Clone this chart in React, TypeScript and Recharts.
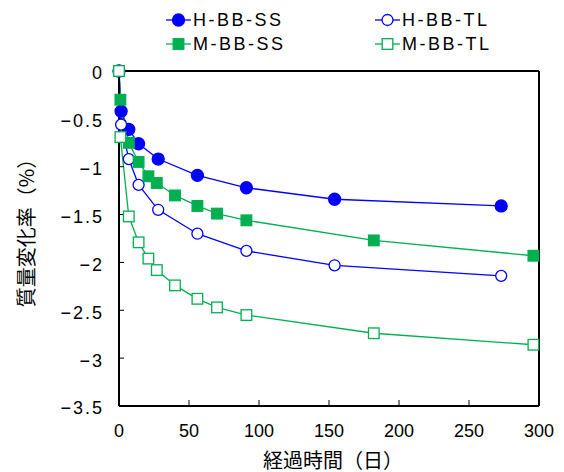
import { LineChart, XAxis, YAxis, Line, Legend, ReferenceLine } from 'recharts'

// days since start, per specimen group
const hDays = [0, 1.5, 7, 14, 28, 56, 91, 154, 273]
const mDays = [0, 1, 7, 14, 21, 27, 40, 56, 70, 91, 182, 296]

// mass change (%)
const hbbSS = [0, -0.42, -0.61, -0.76, -0.92, -1.09, -1.22, -1.34, -1.41]
const hbbTL = [0, -0.56, -0.92, -1.19, -1.45, -1.70, -1.88, -2.03, -2.14]
const mbbSS = [0, -0.30, -0.75, -0.95, -1.10, -1.17, -1.30, -1.41, -1.49, -1.56, -1.77, -1.93]
const mbbTL = [0, -0.69, -1.52, -1.79, -1.96, -2.08, -2.24, -2.38, -2.47, -2.55, -2.74, -2.86]

const xTicks = [0, 50, 100, 150, 200, 250, 300]
const yTicks = [0, -0.5, -1, -1.5, -2, -2.5, -3, -3.5]

const seriesNames = ['H-BB-SS', 'H-BB-TL', 'M-BB-SS', 'M-BB-TL']

const BLUE = '#0000ff'
const GREEN = '#00b050'
const FONT = "'Noto Sans CJK JP', sans-serif"
const NUM_FONT = "'Liberation Sans', 'Noto Sans CJK JP', sans-serif"

const toPoints = (days, vals) => days.map((d, i) => ({ day: d, value: vals[i] }))

const series = [
    { name: seriesNames[0], data: toPoints(hDays, hbbSS), color: BLUE, shape: 'circle', filled: true },
    { name: seriesNames[1], data: toPoints(hDays, hbbTL), color: BLUE, shape: 'circle', filled: false },
    { name: seriesNames[2], data: toPoints(mDays, mbbSS), color: GREEN, shape: 'square', filled: true },
    { name: seriesNames[3], data: toPoints(mDays, mbbTL), color: GREEN, shape: 'square', filled: false },
]

function Marker({ cx, cy, s }) {
    if (s.shape === 'circle') {
        return <circle cx={cx} cy={cy} r={s.filled ? 6 : 5.5} fill={s.filled ? s.color : '#fff'} stroke={s.color} strokeWidth={1.3} />
    }
    const h = 5.3
    return <rect x={cx - h} y={cy - h} width={h * 2} height={h * 2} fill={s.filled ? s.color : '#fff'} stroke={s.color} strokeWidth={1.3} />
}

const makeDot = (s) => (props) => {
    const { cx, cy, index } = props
    if (cx == null || cy == null) return <g key={'e' + index} />
    return <Marker key={s.name + index} cx={cx} cy={cy} s={s} />
}

function LegendBox() {
    const cols = [166, 375]
    const rows = [20, 44]
    return (
        <div style={{ position: 'relative', width: 564, height: 60, fontFamily: NUM_FONT, fontSize: 18, letterSpacing: 2.5, color: '#000' }}>
            {series.map((s, i) => (
                <div key={s.name} style={{ position: 'absolute', left: cols[i % 2], top: rows[Math.floor(i / 2)] - 11, height: 22, display: 'flex', alignItems: 'center' }}>
                    <svg width={26} height={22}>
                        <line x1={0} y1={11} x2={25} y2={11} stroke={s.color} strokeWidth={1.3} />
                        <Marker cx={12.5} cy={11} s={s} />
                    </svg>
                    <span style={{ marginLeft: 1, lineHeight: '22px' }}>{s.name}</span>
                </div>
            ))}
        </div>
    )
}

function YTitle() {
    return (
        <text x={25} y={228} transform="rotate(-90 25 228)" textAnchor="middle" dominantBaseline="central"
            fontFamily={FONT} fontSize={20} fill="#000">質量変化率（%）</text>
    )
}

function XTitle() {
    return (
        <text x={333} y={459} textAnchor="middle" dominantBaseline="central"
            fontFamily={FONT} fontSize={20} fill="#000">経過時間（日）</text>
    )
}

const fmt = (v) => (v < 0 ? '\u2212' + String(-v) : String(v))

export default function App() {
    return (
        <div style={{ position: 'absolute', left: 0, top: 0 }}>
            <LineChart width={564} height={472} margin={{ top: 71, right: 25, left: 0, bottom: 0 }}>
                <XAxis type="number" dataKey="day" domain={[0, 300]} ticks={xTicks}
                    height={66} tickSize={-6} tickMargin={24}
                    axisLine={{ stroke: '#000', strokeWidth: 2 }} tickLine={{ stroke: '#000' }}
                    tick={{ fill: '#000', fontSize: 18, fontFamily: NUM_FONT }}
                    label={<XTitle />} />
                <YAxis type="number" domain={[-3.5, 0]} ticks={yTicks}
                    width={119} tickSize={-5} tickMargin={20} tickFormatter={fmt}
                    axisLine={{ stroke: '#000', strokeWidth: 2 }} tickLine={{ stroke: '#000' }}
                    tick={{ fill: '#000', fontSize: 18, fontFamily: NUM_FONT, dy: 2, letterSpacing: 2 }}
                    label={<YTitle />} />
                <ReferenceLine y={0} stroke="#000" strokeWidth={2} />
                <ReferenceLine x={300} stroke="#000" strokeWidth={2} />
                <Legend verticalAlign="middle" content={<LegendBox />}
                    wrapperStyle={{ top: 0, left: 0, width: 564, height: 60 }} />
                {series.map((s) => (
                    <Line key={s.name} data={s.data} dataKey="value" name={s.name} type="linear"
                        stroke={s.color} strokeWidth={1.3} dot={makeDot(s)} activeDot={false}
                        isAnimationActive={false} />
                ))}
            </LineChart>
        </div>
    )
}
